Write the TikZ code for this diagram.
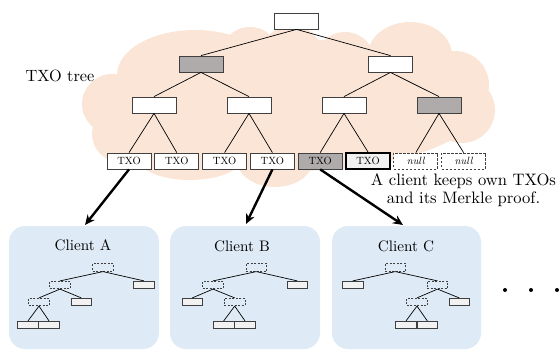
\documentclass[tikz,border=0pt]{standalone}
\usetikzlibrary{arrows.meta}
\definecolor{cloudpeach}{HTML}{FBE5D6}
\definecolor{clientblue}{HTML}{DEEBF7}
\definecolor{nodegray}{HTML}{AFABAB}
\definecolor{lightbox}{HTML}{F2F2F2}
\definecolor{edgegray}{HTML}{404040}
% 10pt design size, enlarged
\newcommand{\biglabel}[2]{\scalebox{#1}{\fontsize{10}{10.8}\selectfont #2}}
\tikzset{
  tbox/.style={draw=edgegray, line width=0.8pt, fill=white, minimum width=44pt,
    minimum height=16pt, inner sep=0pt, font=\fontsize{10.5}{12}\selectfont},
  grayed/.style={fill=nodegray},
  owned/.style={fill=lightbox, draw=black, line width=2pt},
  nullbox/.style={dashed, dash pattern=on 2.5pt off 1.5pt, fill=white},
  tedge/.style={line width=0.7pt},
  cbox/.style={draw=edgegray, line width=0.7pt, fill=lightbox, minimum width=20.5pt,
    minimum height=7.5pt, inner sep=0pt},
  cdash/.style={cbox, fill=none, dash pattern=on 2pt off 1.5pt},
  cedge/.style={line width=0.7pt},
  client/.style={fill=clientblue, rounded corners=16pt},
  bigarrow/.style={line width=2.4pt, -{Stealth[length=10pt,width=9pt]}},
  lbl/.style={inner sep=0pt}
}
\begin{document}
\begin{tikzpicture}[x=1pt,y=-1pt]
\useasboundingbox (0,0) rectangle (560,350);

% background cloud holding the tree, built from overlapping puffs
\fill[cloudpeach]
  (290,105) ellipse [x radius=190, y radius=66]
  (112,104) circle (30)
  (120,134) circle (28)
  (195,75) ellipse [x radius=78, y radius=45]
  (250,57) circle (30)
  (292,55) circle (30)
  (345,62) circle (30)
  (410,55) ellipse [x radius=42, y radius=33]
  (455,85) circle (34)
  (462,110) circle (33)
  (190,158) ellipse [x radius=52, y radius=22]
  (275,160) ellipse [x radius=38, y radius=27]
  (335,150) ellipse [x radius=35, y radius=20];

% client panels
\fill[client] (9,226) rectangle (159,349);
\fill[client] (170,226) rectangle (320,349);
\fill[client] (332,226) rectangle (481,349);

% TXO tree
\node[tbox] (root) at (296.5,21) {};
\node[tbox,grayed] (n1a) at (201,64) {};
\node[tbox] (n1b) at (390.5,64) {};
\node[tbox] (n2a) at (154,105) {};
\node[tbox] (n2b) at (249,105) {};
\node[tbox] (n2c) at (344,105) {};
\node[tbox,grayed] (n2d) at (439,105) {};
\node[tbox] (l1) at (129,161) {TXO};
\node[tbox] (l2) at (176.8,161) {TXO};
\node[tbox] (l3) at (224.6,161) {TXO};
\node[tbox] (l4) at (272.4,161) {TXO};
\node[tbox,grayed] (l5) at (320.2,161) {TXO};
\node[tbox,owned] (l6) at (368,161) {TXO};
\node[tbox,nullbox] (l7) at (415.8,161) {\itshape null};
\node[tbox,nullbox] (l8) at (463.6,161) {\itshape null};

\foreach \p/\c in {root/n1a, root/n1b, n1a/n2a, n1a/n2b, n1b/n2c, n1b/n2d,
  n2a/l1, n2a/l2, n2b/l3, n2b/l4, n2c/l5, n2c/l6, n2d/l7, n2d/l8}
  \draw[tedge] (\p.south) -- (\c.north);

\node[lbl] (title) at (60,76) {\biglabel{1.63}{TXO tree}};
\node[lbl] (note) at (463.5,191)
  {\biglabel{1.66}{\begin{tabular}{@{}c@{}}A client keeps own TXOs\\and its Merkle proof.\end{tabular}}};

% client A
\node[lbl] (cA) at (83,245) {\biglabel{1.52}{Client A}};
\node[cdash] (rA) at (103,267.5) {};
\node[cdash] (A1) at (60,285) {};
\node[cbox] (A2) at (144,285) {};
\node[cdash] (A3) at (39,302) {};
\node[cbox] (A4) at (81.3,302) {};
\node[cbox] (A5) at (28,325) {};
\node[cbox] (A6) at (49,325) {};
\foreach \p/\c in {rA/A1, rA/A2, A1/A3, A1/A4, A3/A5, A3/A6}
  \draw[cedge] (\p.south) -- (\c.north);

% client B
\node[lbl] (cB) at (242,246) {\biglabel{1.52}{Client B}};
\node[cdash] (rB) at (256.3,267.5) {};
\node[cdash] (B1) at (213,285) {};
\node[cbox] (B2) at (297.3,285) {};
\node[cbox] (B3) at (192.3,302) {};
\node[cdash] (B4) at (234.7,302) {};
\node[cbox] (B5) at (223.7,325) {};
\node[cbox] (B6) at (245,325) {};
\foreach \p/\c in {rB/B1, rB/B2, B1/B3, B1/B4, B4/B5, B4/B6}
  \draw[cedge] (\p.south) -- (\c.north);

% client C
\node[lbl] (cC) at (406,246) {\biglabel{1.52}{Client C}};
\node[cdash] (rC) at (395.3,267.5) {};
\node[cbox] (C1) at (352.7,285) {};
\node[cdash] (C2) at (437.5,285) {};
\node[cdash] (C3) at (417,302) {};
\node[cbox] (C4) at (459.2,302) {};
\node[cbox] (C5) at (406,325) {};
\node[cbox] (C6) at (427.3,325) {};
\foreach \p/\c in {rC/C1, rC/C2, C2/C3, C2/C4, C3/C5, C3/C6}
  \draw[cedge] (\p.south) -- (\c.north);

% each client receives its own leaf
\coordinate (tA) at (85,225);
\coordinate (tB) at (246,224);
\coordinate (tC) at (403,225);
\draw[bigarrow] (l1.south) -- (tA);
\draw[bigarrow] (l4.south) -- (tB);
\draw[bigarrow] (l5.south) -- (tC);

% more clients
\foreach \x [count=\i] in {505,531,557}
  \fill (\x,290) circle (2pt) coordinate (dot\i);
\end{tikzpicture}
\end{document}
